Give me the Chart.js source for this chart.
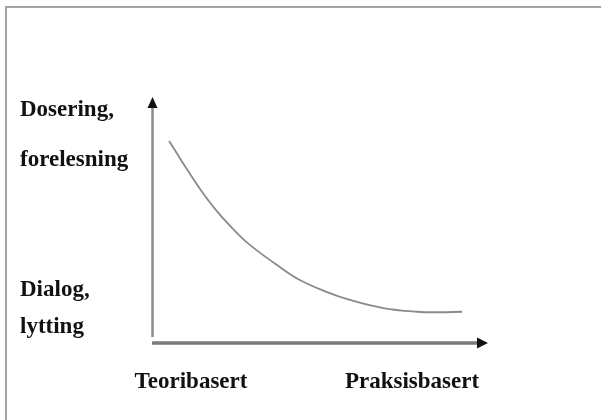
<!DOCTYPE html>
<html>
<head>
<meta charset="utf-8">
<script src="https://cdn.jsdelivr.net/npm/chart.js@4/dist/chart.umd.min.js"></script>
<style>
  html, body { margin: 0; padding: 0; background: #fff; }
  #wrap { position: relative; width: 601px; height: 420px; }
  #frame {
    position: absolute; left: 5px; top: 6px; right: 0; bottom: 0;
    border-top: 2px solid #a3a3a3; border-left: 2px solid #a3a3a3;
  }
</style>
</head>
<body>
<div id="wrap">
  <div id="frame"></div>
  <canvas id="chart"></canvas>
</div>
<script>
/* ===============================
   Data
================================ */
const curveX = [5.1, 9.2, 14.3, 19.3, 25.3, 29.2, 37.2, 44.0, 52.1, 58.9, 68.8, 78.9, 85.5, 92.3];
const curveY = [82.1, 73.2, 62.6, 53.6, 44.7, 39.8, 31.7, 25.6, 20.7, 17.5, 14.2, 12.7, 12.5, 12.7];

const xLabels = ["Teoribasert", "Praksisbasert"];
const xLabelAt = [11.6, 77.4];
const yLabelsTop = ["Dosering,", "forelesning"];
const yLabelsBottom = ["Dialog,", "lytting"];

const FONT = "bold 23px 'Liberation Serif', 'Times New Roman', serif";

/* ===============================
   Axes, arrows and labels
================================ */
const axesPlugin = {
  id: "axesPlugin",
  afterDraw(chart) {
    const ctx = chart.ctx;
    const x = chart.scales.x, y = chart.scales.y;
    const x0 = x.getPixelForValue(0), x1 = x.getPixelForValue(100);
    const y0 = y.getPixelForValue(0), y1 = y.getPixelForValue(100);

    ctx.save();
    // y axis
    ctx.strokeStyle = "#8c8c8c";
    ctx.lineWidth = 2.5;
    ctx.beginPath();
    ctx.moveTo(x0 + 0.5, y0 - 6);
    ctx.lineTo(x0 + 0.5, y1 + 8);
    ctx.stroke();
    ctx.fillStyle = "#111";
    ctx.beginPath();
    ctx.moveTo(x0 + 0.5, y1);
    ctx.lineTo(x0 + 5.5, y1 + 11);
    ctx.lineTo(x0 - 4.5, y1 + 11);
    ctx.closePath();
    ctx.fill();

    // x axis
    ctx.strokeStyle = "#7a7a7a";
    ctx.lineWidth = 3.5;
    ctx.beginPath();
    ctx.moveTo(x0, y0);
    ctx.lineTo(x1 - 8, y0);
    ctx.stroke();
    ctx.fillStyle = "#111";
    ctx.beginPath();
    ctx.moveTo(x1, y0);
    ctx.lineTo(x1 - 11, y0 - 5.5);
    ctx.lineTo(x1 - 11, y0 + 5.5);
    ctx.closePath();
    ctx.fill();

    // labels
    ctx.font = FONT;
    ctx.fillStyle = "#111";
    ctx.textBaseline = "alphabetic";
    ctx.textAlign = "center";
    xLabels.forEach((t, i) => {
      ctx.fillText(t, x.getPixelForValue(xLabelAt[i]), y0 + 45);
    });
    ctx.textAlign = "left";
    ctx.fillText(yLabelsTop[0], 20, y1 + 19);
    ctx.fillText(yLabelsTop[1], 20, y1 + 69);
    ctx.fillText(yLabelsBottom[0], 20, y0 - 47);
    ctx.fillText(yLabelsBottom[1], 20, y0 - 10);
    ctx.restore();
  }
};

/* ===============================
   Chart
================================ */
new Chart(document.getElementById("chart"), {
  type: "line",
  data: {
    datasets: [{
      data: curveX.map((v, i) => ({ x: v, y: curveY[i] })),
      borderColor: "#8a8a8a",
      borderWidth: 1.8,
      pointRadius: 0,
      tension: 0.4,
      fill: false
    }]
  },
  options: {
    responsive: true,
    maintainAspectRatio: false,
    animation: false,
    layout: { padding: { left: 152, right: 113, top: 97, bottom: 77 } },
    plugins: { legend: { display: false }, tooltip: { enabled: false } },
    scales: {
      x: { type: "linear", min: 0, max: 100, display: false },
      y: { type: "linear", min: 0, max: 100, display: false }
    }
  },
  plugins: [axesPlugin]
});
</script>
</body>
</html>
